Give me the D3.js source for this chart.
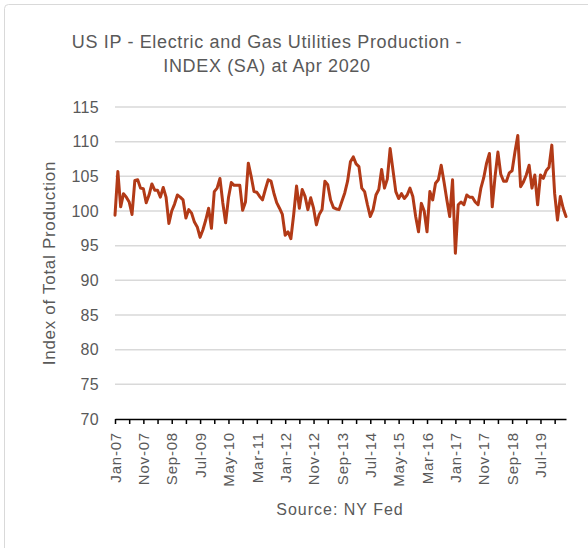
<!DOCTYPE html>
<html>
<head>
<meta charset="utf-8">
<script src="https://cdn.jsdelivr.net/npm/d3@7"></script>
<style>
  html, body { margin: 0; padding: 0; background: #ffffff; }
  svg { display: block; font-family: "Liberation Sans", Arial, sans-serif; }
</style>
</head>
<body>
<svg id="chart" width="588" height="548"></svg>
<script>
// Monthly index values, Jan-2007 through Apr-2020
const production = [
  99.4, 105.7, 100.6, 102.5, 102.0, 101.3, 99.5, 104.4, 104.5, 103.3,
  103.2, 101.2, 102.3, 103.9, 103.0, 103.0, 102.0, 103.4, 102.0, 98.2,
  100.0, 101.0, 102.3, 102.0, 101.6, 99.0, 100.2, 99.7, 98.4, 97.7,
  96.2, 97.3, 98.7, 100.4, 97.5, 102.8, 103.3, 104.7, 101.2, 98.3,
  101.9, 104.1, 103.7, 103.7, 103.7, 100.1, 101.3, 106.9, 105.0, 102.8,
  102.7, 102.1, 101.6, 103.1, 104.5, 104.3, 102.6, 101.2, 100.4, 99.5,
  96.5, 97.0, 96.0, 99.5, 103.6, 100.4, 103.1, 102.1, 100.2, 101.9,
  100.4, 98.0, 99.5, 100.2, 104.3, 103.8, 101.6, 100.5, 100.3, 100.2,
  101.4, 102.6, 104.3, 107.1, 107.8, 106.8, 106.4, 103.3, 102.8, 100.9,
  99.2, 100.2, 102.3, 103.1, 106.0, 103.3, 104.6, 109.0, 105.9, 102.8,
  101.8, 102.5, 101.8, 102.3, 103.3, 102.1, 99.2, 97.0, 101.1, 100.0,
  97.0, 102.8, 101.6, 104.0, 104.5, 106.6, 104.2, 101.6, 99.2, 104.5,
  93.9, 100.9, 101.3, 100.9, 102.3, 102.0, 102.0, 101.3, 100.9, 103.3,
  104.8, 106.9, 108.3, 100.6, 105.0, 108.5, 105.3, 104.3, 104.3, 105.5,
  105.8, 108.5, 110.9, 103.5, 104.2, 105.2, 106.6, 103.3, 105.2, 100.9,
  105.2, 104.7, 105.8, 106.3, 109.5, 102.5, 98.7, 102.1, 100.4, 99.2
];

const monthNames = ["Jan","Feb","Mar","Apr","May","Jun","Jul","Aug","Sep","Oct","Nov","Dec"];
const startYear = 2007;
const months = production.map((_, i) =>
  monthNames[i % 12] + "-" + String((startYear + Math.floor(i / 12)) % 100).padStart(2, "0"));

const tickLabels = ["Jan-07","Nov-07","Sep-08","Jul-09","May-10","Mar-11","Jan-12","Nov-12",
                    "Sep-13","Jul-14","May-15","Mar-16","Jan-17","Nov-17","Sep-18","Jul-19"];
const yTicks = [70, 75, 80, 85, 90, 95, 100, 105, 110, 115];

const titleLines = ["US IP - Electric and Gas Utilities Production -", "INDEX (SA) at Apr 2020"];
const yAxisTitle = "Index of Total Production";
const sourceNote = "Source: NY Fed";

const svg = d3.select("#chart");
const textColor = "#595959";
const lineColor = "#B23A17";

const plot = { left: 115, right: 566, top: 107, bottom: 419 };

// chart frame
svg.append("rect")
  .attr("x", 4.5).attr("y", 4.5)
  .attr("width", 640).attr("height", 640)
  .attr("rx", 4)
  .attr("fill", "none")
  .attr("stroke", "#d9d9d9")
  .attr("stroke-width", 1);

const x = d3.scalePoint()
  .domain(months)
  .range([plot.left, plot.right]);

const y = d3.scaleLinear()
  .domain([70, 115])
  .range([plot.bottom, plot.top]);

// title
svg.append("g")
  .selectAll("text")
  .data(titleLines)
  .join("text")
  .attr("x", 267)
  .attr("y", (d, i) => 48 + i * 24)
  .attr("text-anchor", "middle")
  .attr("fill", textColor)
  .attr("font-size", 18)
  .attr("letter-spacing", 0.65)
  .text(d => d);

// horizontal gridlines
svg.append("g")
  .selectAll("line")
  .data(yTicks.filter(v => v > 70))
  .join("line")
  .attr("x1", plot.left).attr("x2", plot.right)
  .attr("y1", d => y(d)).attr("y2", d => y(d))
  .attr("stroke", "#d9d9d9")
  .attr("stroke-width", 1.5);

// y axis labels
const yAxis = d3.axisLeft(y).tickValues(yTicks).tickSize(0).tickPadding(16);
const gy = svg.append("g")
  .attr("transform", `translate(${plot.left},0)`)
  .call(yAxis);
gy.select(".domain").remove();
gy.selectAll("text")
  .attr("fill", textColor)
  .attr("font-size", 16)
  .attr("letter-spacing", 0.3)
  .attr("font-family", "Liberation Sans, Arial, sans-serif");

// x axis: tick every 5 months, labels every 10 months
const xAxis = d3.axisBottom(x)
  .tickValues(months.filter((m, i) => i % 5 === 0))
  .tickSize(5)
  .tickSizeOuter(0)
  .tickFormat(m => tickLabels.includes(m) ? m : "");
const gx = svg.append("g")
  .attr("transform", `translate(0,${plot.bottom})`)
  .call(xAxis);
gx.select(".domain")
  .attr("stroke", "#000")
  .attr("stroke-width", 1.5);
gx.selectAll(".tick line")
  .attr("stroke", "#000")
  .attr("stroke-width", 1.5);
gx.selectAll("text")
  .attr("fill", textColor)
  .attr("font-size", 15)
  .attr("letter-spacing", 0.8)
  .attr("font-family", "Liberation Sans, Arial, sans-serif")
  .attr("text-anchor", "end")
  .attr("dy", "0.35em")
  .attr("transform", "translate(0,5) rotate(-90)")
  .attr("x", -8)
  .attr("y", 0);

// production line
const line = d3.line()
  .x((d, i) => x(months[i]))
  .y(d => y(d));

svg.append("path")
  .datum(production)
  .attr("d", line)
  .attr("fill", "none")
  .attr("stroke", lineColor)
  .attr("stroke-width", 3)
  .attr("stroke-linejoin", "round")
  .attr("stroke-linecap", "round");

// y axis title
svg.append("text")
  .attr("transform", `translate(55,263) rotate(-90)`)
  .attr("text-anchor", "middle")
  .attr("fill", textColor)
  .attr("font-size", 17)
  .attr("letter-spacing", 0.7)
  .text(yAxisTitle);

// source note
svg.append("text")
  .attr("x", 340)
  .attr("y", 515)
  .attr("text-anchor", "middle")
  .attr("fill", textColor)
  .attr("font-size", 16)
  .attr("letter-spacing", 1)
  .text(sourceNote);
</script>
</body>
</html>
